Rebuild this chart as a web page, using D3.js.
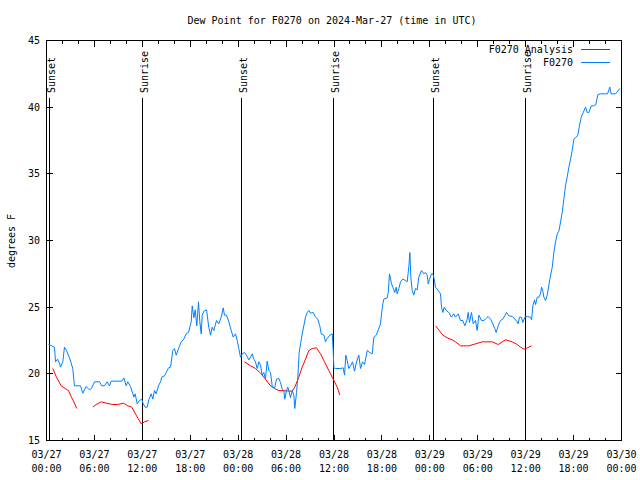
<!DOCTYPE html>
<html><head><meta charset="utf-8">
<script src="https://cdn.jsdelivr.net/npm/d3@7"></script>
<style>
body{margin:0;background:#fff}
text{font-family:"DejaVu Sans Mono",monospace;font-size:10px;fill:#000}
</style>
</head><body><svg id="c" width="640" height="480"></svg>
<script>
// hours since 2024-03-27 00:00 UTC
const dewHours = [0.25,1.0,1.13,1.38,1.63,1.75,2.04,2.25,2.5,2.88,3.29,3.5,4.26,4.55,4.97,5.38,5.63,6.01,6.64,6.92,7.26,7.6,7.89,8.1,9.43,9.68,9.98,10.18,10.52,10.81,10.93,11.1,11.36,11.65,11.93,12.11,12.36,12.61,12.81,13.11,13.31,13.52,13.74,14.02,14.28,14.44,14.78,14.99,15.28,15.53,15.82,16.03,16.24,16.53,16.87,17.19,17.49,17.78,18.12,18.25,18.45,18.62,18.82,19.03,19.2,19.37,19.5,19.7,20.04,20.32,20.54,20.75,20.95,21.29,21.58,21.88,22.13,22.29,22.54,22.83,23.13,23.38,23.67,23.88,24.08,24.29,24.51,24.79,25.13,25.33,25.55,25.76,25.96,26.17,26.38,26.59,26.8,27.01,27.21,27.42,27.63,27.84,28.05,28.26,28.55,28.8,29.09,29.3,29.51,29.72,29.84,30.05,30.22,30.34,30.55,30.77,30.97,31.09,31.31,31.47,31.64,31.81,32.02,32.22,32.43,32.65,32.85,33.06,33.4,33.68,33.97,34.22,34.4,34.73,34.94,35.15,35.48,35.78,35.9,35.98,36.19,36.82,37.15,37.32,37.48,37.65,37.85,38.07,38.32,38.57,38.82,39.11,39.32,39.57,39.82,40.16,40.45,40.79,40.99,41.29,41.54,41.83,41.95,42.11,42.24,42.66,42.79,42.95,43.2,43.37,43.61,43.79,43.91,44.12,44.33,44.62,44.96,45.17,45.38,45.5,45.63,45.79,45.99,46.21,46.42,46.62,46.96,47.25,47.46,47.67,47.8,47.96,48.21,48.38,48.55,48.71,49.05,49.34,49.46,49.63,49.8,50.05,50.38,50.71,51.0,51.21,51.55,51.84,52.13,52.38,52.68,52.8,52.97,53.22,53.43,53.72,53.93,54.14,54.47,54.76,54.96,55.3,55.6,55.81,56.13,56.31,56.56,56.72,56.85,57.13,57.38,57.6,57.89,58.31,58.51,58.93,59.06,59.22,59.47,59.64,59.89,60.2,60.61,60.74,60.9,61.11,61.24,61.45,61.65,61.86,61.99,62.15,62.28,62.49,62.7,63.03,63.33,63.53,63.74,63.96,64.16,64.37,64.58,64.78,64.99,65.2,65.41,65.62,65.83,66.03,66.24,66.53,66.78,66.96,67.21,67.5,67.71,67.91,68.21,68.5,68.79,69.04,69.37,70.25,70.54,70.71,71.25,71.54,71.79];
const dewValues = [22.2,22.0,20.9,21.1,20.8,20.5,20.9,22.0,21.75,21.2,20.4,19.1,19.1,18.55,19.05,18.8,18.9,19.4,19.4,19.1,19.1,19.4,19.1,19.45,19.45,19.7,19.1,19.4,19.05,18.5,18.25,18.5,17.75,18.0,18.1,17.75,17.5,17.5,18.05,18.5,18.1,18.75,18.5,19.1,19.4,19.75,19.85,20.1,20.45,20.5,21.75,21.9,21.4,21.9,22.4,22.6,23.0,23.1,23.9,25.1,24.2,24.8,23.6,25.4,23.9,23.0,24.4,24.7,24.8,23.5,22.9,23.5,23.25,24.0,23.75,24.25,24.95,24.4,24.4,23.9,23.25,22.75,23.0,22.5,21.9,21.25,21.5,21.6,21.3,21.05,21.25,21.5,21.1,20.9,20.4,20.9,20.65,19.9,20.1,19.6,20.95,20.25,20.1,19.1,18.9,19.6,19.65,19.35,18.85,18.75,18.1,18.75,19.0,18.75,18.2,18.75,18.4,17.4,18.6,19.75,21.6,22.25,23.0,23.6,24.25,24.6,24.75,24.55,24.6,24.25,24.1,23.6,23.0,22.9,22.4,22.65,22.9,23.0,21.75,20.45,20.4,20.4,20.45,19.9,21.4,21.0,20.4,20.6,20.9,20.2,20.9,21.4,20.4,20.9,20.7,21.75,21.6,21.5,22.75,22.9,23.3,23.75,24.5,25.25,25.6,25.7,26.1,27.5,26.75,26.5,26.1,26.5,26.0,26.4,26.9,27.1,27.0,26.9,28.1,29.1,27.2,26.25,25.9,26.4,26.3,27.25,27.75,27.5,27.6,27.4,26.75,27.1,27.5,27.5,27.1,26.5,26.25,26.0,25.0,24.6,25.0,24.75,24.6,24.25,24.5,24.25,24.5,24.0,24.0,23.6,24.1,24.6,23.85,24.6,23.75,24.0,23.25,24.4,24.0,24.0,24.1,24.3,24.1,23.85,23.4,23.1,23.6,23.85,24.0,24.1,24.35,24.6,24.35,24.3,24.2,23.9,23.75,24.25,24.25,23.85,24.25,24.3,24.25,24.05,25.1,25.55,25.2,25.75,25.75,26.0,26.5,26.2,25.75,25.5,25.9,27.1,28.0,29.1,29.9,30.5,30.7,31.4,32.1,33.1,34.1,34.75,35.5,36.1,36.75,37.6,37.7,37.9,38.75,39.25,39.6,40.0,39.6,39.6,40.1,40.1,40.2,40.95,41.0,41.0,41.5,41.0,41.0,41.2,41.4];
// analysis series; null marks a gap
const anaHours = [0.79,1.21,1.84,2.34,2.75,3.09,3.42,3.79,4.8,5.8,6.22,6.85,7.48,8.3,8.93,9.64,10.18,10.68,11.23,11.86,12.27,12.77,18.0,24.79,25.55,26.17,26.8,27.42,28.05,28.55,29.09,30.77,31.09,31.59,32.02,32.43,32.85,33.27,33.81,34.31,34.81,35.35,35.9,36.4,36.73,42.0,48.71,49.12,49.63,50.18,50.8,51.21,51.84,52.88,53.72,54.55,55.81,56.56,57.48,58.31,58.94,59.36,59.8,60.2,60.74];
const anaValues = [20.4,19.8,19.1,18.9,18.75,18.3,17.9,17.4,null,17.5,17.7,17.9,17.8,17.7,17.7,17.8,17.6,17.5,16.9,16.25,16.4,16.5,null,20.9,20.6,20.4,20.05,19.6,19.1,18.9,18.75,18.7,19.0,19.75,20.5,21.1,21.75,21.9,21.95,21.5,20.9,20.25,19.6,19.0,18.4,null,23.6,23.3,22.9,22.7,22.55,22.4,22.1,22.1,22.25,22.4,22.4,22.2,22.55,22.4,22.2,22.0,21.85,21.95,22.1];
const sunHours = [0.38,12.02,24.42,35.94,48.46,59.98];
const sunLabels = ["Sunset","Sunrise","Sunset","Sunrise","Sunset","Sunrise"];
const yTickValues = [15,20,25,30,35,40,45];
const seriesNames = ["F0270 Analysis","F0270"];
const seriesColors = ["#ff0000","#0080ff"];
const titleText = "Dew Point for F0270 on 2024-Mar-27 (time in UTC)";
const yLabelText = "degrees F";

const t0 = Date.UTC(2024,2,27);
const toDate = h => new Date(t0 + h*3600e3);

const L=46.5,R=621.5,T=40.5,B=440.5;
const svg = d3.select("#c");
const x = d3.scaleUtc().domain([toDate(0),toDate(72)]).range([L,R]);
const y = d3.scaleLinear().domain([15,45]).range([B,T]);

const xTicks = d3.utcHour.every(2).range(toDate(0), toDate(72.01));
const isMajor = d => d.getUTCHours()%6===0;

// bottom & top ticks
const g = svg.append("g").attr("stroke","#000").attr("shape-rendering","crispEdges");
xTicks.forEach(d=>{
  const len = isMajor(d)?6:3;
  const px = Math.round(x(d)-0.5)+0.5;
  g.append("line").attr("x1",px).attr("x2",px).attr("y1",B).attr("y2",B-len);
  g.append("line").attr("x1",px).attr("x2",px).attr("y1",T).attr("y2",T+len);
});
yTickValues.forEach(v=>{
  const py = Math.round(y(v)-0.5)+0.5;
  g.append("line").attr("x1",L).attr("x2",L+6).attr("y1",py).attr("y2",py);
  g.append("line").attr("x1",R).attr("x2",R-6).attr("y1",py).attr("y2",py);
});

// x labels
const fmtD = d3.utcFormat("%m/%d"), fmtT = d3.utcFormat("%H:%M");
xTicks.filter(isMajor).forEach(d=>{
  const t = svg.append("text").attr("text-anchor","middle").attr("x",x(d));
  t.append("tspan").attr("x",x(d)).attr("y",457.5).text(fmtD(d));
  t.append("tspan").attr("x",x(d)).attr("y",471.5).text(fmtT(d));
});
// y labels
yTickValues.forEach(v=>{
  svg.append("text").attr("text-anchor","end").attr("x",40).attr("y",y(v)+3.5).text(v);
});

// sunrise / sunset
sunHours.forEach((h,i)=>{
  const px = Math.round(x(toDate(h))-0.5)+0.5;
  svg.append("line").attr("x1",px).attr("x2",px).attr("y1",98).attr("y2",B)
    .attr("stroke","#000").attr("shape-rendering","crispEdges");
  svg.append("text").attr("text-anchor","start")
    .attr("transform",`translate(${px+5},93) rotate(-90)`).text(sunLabels[i]);
});

// data lines
const anaData = anaHours.map((h,i)=>({d:toDate(h),v:anaValues[i]}));
const dewData = dewHours.map((h,i)=>({d:toDate(h),v:dewValues[i]}));
const line = d3.line().defined(p=>p.v!==null).x(p=>x(p.d)).y(p=>y(p.v));
svg.append("path").datum(anaData).attr("d",line).attr("fill","none")
  .attr("stroke",seriesColors[0]).attr("stroke-width",1);
svg.append("path").datum(dewData).attr("d",line).attr("fill","none")
  .attr("stroke",seriesColors[1]).attr("stroke-width",1);

// frame
svg.append("rect").attr("x",L).attr("y",T).attr("width",R-L).attr("height",B-T)
  .attr("fill","none").attr("stroke","#000").attr("shape-rendering","crispEdges");

// title & axis label
svg.append("text").attr("text-anchor","middle").attr("x",332).attr("y",24).text(titleText);
svg.append("text").attr("text-anchor","middle")
  .attr("transform","translate(15,241) rotate(-90)").text(yLabelText);

// legend
seriesNames.forEach((n,i)=>{
  const ly = 49.5 + i*13;
  svg.append("text").attr("text-anchor","end").attr("x",573).attr("y",ly+3.5).text(n);
  svg.append("line").attr("x1",581).attr("x2",610).attr("y1",ly).attr("y2",ly)
    .attr("stroke",seriesColors[i]).attr("shape-rendering","crispEdges");
});
</script></body></html>
